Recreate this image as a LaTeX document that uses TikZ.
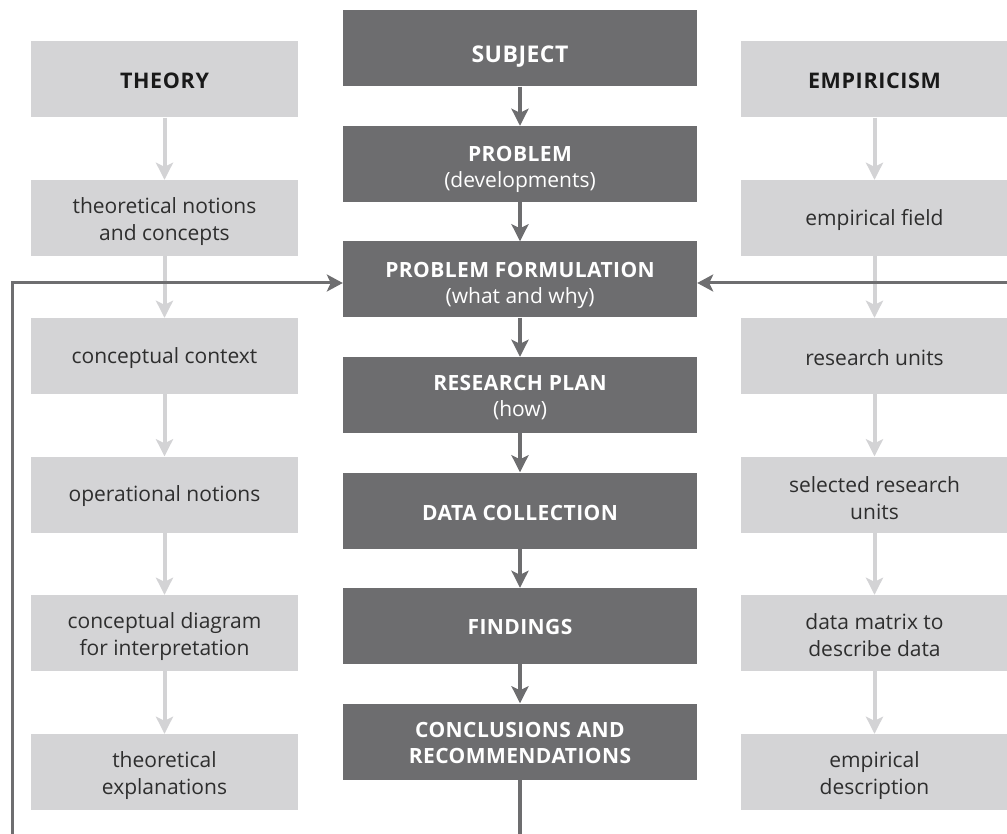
\documentclass[tikz,border=0pt]{standalone}
\usepackage{fontspec}
\setmainfont{Open Sans}
\newfontfamily\hdrfont{Open Sans}[LetterSpace=3]
\newfontfamily\ttlfont{Open Sans}[LetterSpace=2]
\usetikzlibrary{arrows.meta}
\definecolor{dk}{HTML}{6D6D6F}
\definecolor{lt}{HTML}{D4D4D6}
\definecolor{ltarrow}{HTML}{D3D3D5}
\definecolor{fbcol}{HTML}{6E6E70}
\definecolor{txt}{HTML}{2E2E2E}
\tikzset{
  dbox/.style={fill=dk, minimum width=354pt, minimum height=76pt, inner sep=0pt},
  lbox/.style={fill=lt, minimum width=267pt, minimum height=76pt, inner sep=0pt},
  dtext/.style={text=white, align=center, inner sep=0pt, font=\fontsize{21}{26}\selectfont},
  ltext/.style={text=txt, align=center, inner sep=0pt, font=\fontsize{21}{27}\selectfont},
  htext/.style={text=black!90, align=center, inner sep=0pt, font=\hdrfont\bfseries\fontsize{21.5}{26}\selectfont},
  darkarrow/.style={draw=dk, line width=4pt, -{Stealth[length=17pt,width=17pt,inset=4pt]}},
  lightarrow/.style={draw=ltarrow, line width=4pt, -{Stealth[length=17pt,width=17pt,inset=4pt]}},
  fbline/.style={draw=fbcol, line width=3pt, -{Stealth[length=16pt,width=17pt,inset=4pt]}},
  plainline/.style={draw=dk, line width=4pt},
}
\newcommand{\ttl}[1]{{\ttlfont\bfseries #1}}
\begin{document}
\begin{tikzpicture}[x=1pt,y=-1pt]
\useasboundingbox (0,0) rectangle (1007,834);
% center column boxes
\node[dbox] (subj) at (520,48.5) {};
\node[dbox] (prob) at (520,164) {};
\node[dbox] (pf) at (520,279.5) {};
\node[dbox] (rp) at (520,395) {};
\node[dbox] (dc) at (520,510.5) {};
\node[dbox] (fi) at (520,626) {};
\node[dbox] (cr) at (520,741.5) {};
% center texts
\node[dtext, font=\fontsize{23}{26}\selectfont] (subjT) at ([yshift=-8.5pt]subj.center) {\ttl{SUBJECT}};
\node[dtext] (probT) at ([yshift=-5pt]prob.center) {\ttl{PROBLEM}\\(developments)};
\node[dtext] (pfT) at ([yshift=-5.5pt]pf.center) {\ttl{PROBLEM FORMULATION}\\(what and why)};
\node[dtext] (rpT) at ([yshift=-3pt]rp.center) {\ttl{RESEARCH PLAN}\\(how)};
\node[dtext] (dcT) at ([yshift=-2pt]dc.center) {\ttl{DATA COLLECTION}};
\node[dtext] (fiT) at ([yshift=-1pt]fi.center) {\ttl{FINDINGS}};
\node[dtext, font=\fontsize{21}{25.5}\selectfont] (crT) at ([yshift=-1.5pt]cr.center) {\ttl{CONCLUSIONS AND}\\\ttl{RECOMMENDATIONS}};
% left column
\node[lbox] (th) at (164.5,79.5) {};
\node[lbox] (l1) at (164.5,218) {};
\node[lbox] (l2) at (164.5,356) {};
\node[lbox] (l3) at (164.5,494.5) {};
\node[lbox] (l4) at (164.5,633) {};
\node[lbox] (l5) at (164.5,772) {};
\node[htext] (thT) at ([yshift=-1pt]th.center) {THEORY};
\node[ltext] (l1T) at ([yshift=-4pt]l1.center) {theoretical notions\\and concepts};
\node[ltext] (l2T) at ([yshift=-2pt]l2.center) {conceptual context};
\node[ltext] (l3T) at ([yshift=-2pt]l3.center) {operational notions};
\node[ltext] (l4T) at ([yshift=-4pt]l4.center) {conceptual diagram\\for interpretation};
\node[ltext] (l5T) at ([yshift=-4pt]l5.center) {theoretical\\explanations};
% right column
\node[lbox] (em) at (874.5,79.5) {};
\node[lbox] (r1) at (874.5,218) {};
\node[lbox] (r2) at (874.5,356) {};
\node[lbox] (r3) at (874.5,494.5) {};
\node[lbox] (r4) at (874.5,633) {};
\node[lbox] (r5) at (874.5,772) {};
\node[htext] (emT) at ([yshift=-1pt]em.center) {EMPIRICISM};
\node[ltext] (r1T) at ([yshift=-2pt]r1.center) {empirical field};
\node[ltext] (r2T) at ([yshift=-2pt]r2.center) {research units};
\node[ltext] (r3T) at ([yshift=-4pt]r3.center) {selected research\\units};
\node[ltext] (r4T) at ([yshift=-2pt]r4.center) {data matrix to\\describe data};
\node[ltext] (r5T) at ([yshift=-4pt]r5.center) {empirical\\description};
% light arrows
\foreach \a/\b in {th/l1,l1/l2,l2/l3,l3/l4,l4/l5,em/r1,r1/r2,r2/r3,r3/r4,r4/r5}
  \draw[lightarrow] (\a.south) -- (\b.north);
% feedback lines
\coordinate (fbL) at (12,834);
\coordinate (fbR) at (1007,283);
\draw[fbline] (fbL) |- ([yshift=-3.5pt]pf.west);
\draw[fbline] (fbR) -- ([yshift=-3.5pt]pf.east);
% dark arrows
\foreach \a/\b in {subj/prob,prob/pf,pf/rp,rp/dc,dc/fi,fi/cr}
  \draw[darkarrow] (\a.south) -- (\b.north);
\coordinate (bot) at (520,834);
\draw[plainline] (cr.south) -- (bot);
\end{tikzpicture}
\end{document}
